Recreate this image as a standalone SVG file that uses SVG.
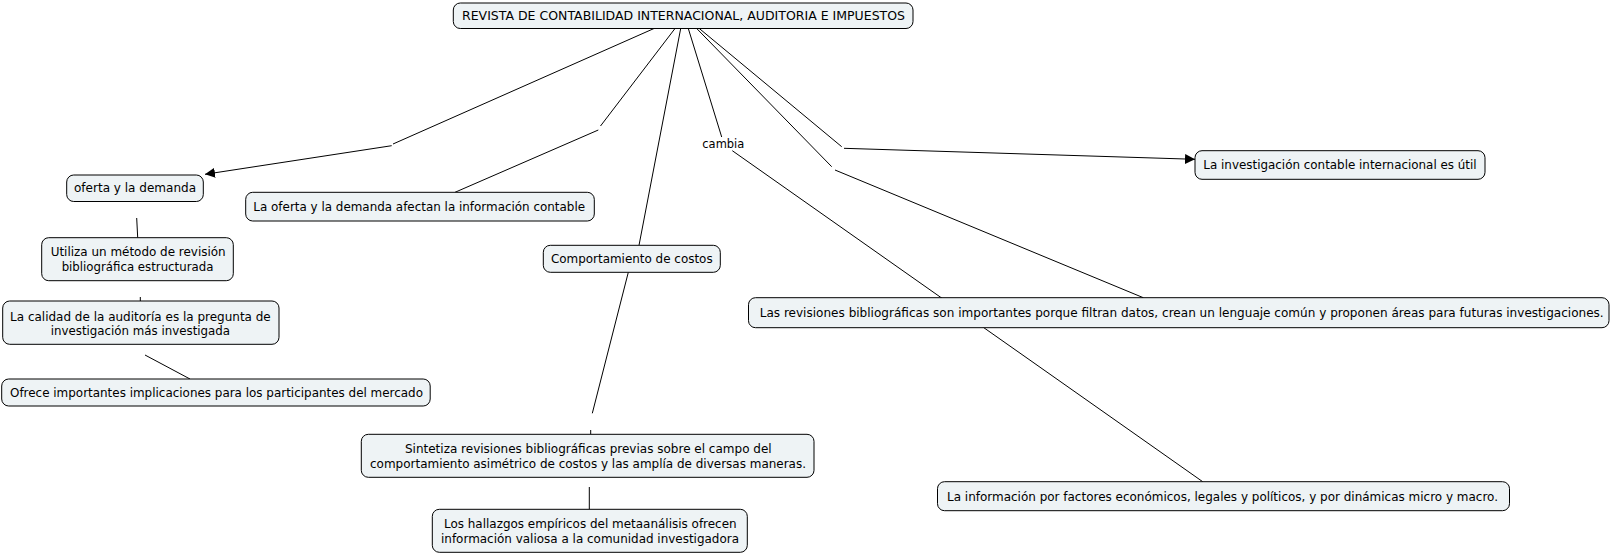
<svg xmlns="http://www.w3.org/2000/svg" width="1610" height="554" viewBox="0 0 1610 554">
<style>
.box{fill:#eef3f5;stroke:#000;stroke-width:1}
.t{font-family:"DejaVu Sans","Liberation Sans",sans-serif;font-size:12px;fill:#000;text-anchor:middle}
.lbl{font-family:"DejaVu Sans","Liberation Sans",sans-serif;font-size:11.5px;fill:#000;text-anchor:middle}
.c{fill:none;stroke:#000;stroke-width:1}
</style>
<defs>
<marker id="arr" viewBox="0 0 10 10" refX="10" refY="5" markerWidth="10" markerHeight="10" markerUnits="userSpaceOnUse" orient="auto">
<path d="M0,0 L10,5 L0,10 Z" fill="#000"/>
</marker>
</defs>
<rect width="1610" height="554" fill="#fff"/>
<g id="connectors">
<line class="c" x1="654" y1="28.5" x2="393" y2="144"/>
<line class="c" x1="391.7" y1="145.7" x2="205" y2="174.3" marker-end="url(#arr)"/>
<line class="c" x1="675" y1="28.5" x2="600.5" y2="126"/>
<line class="c" x1="598.3" y1="130" x2="455" y2="192.3"/>
<line class="c" x1="680.7" y1="28.5" x2="639" y2="245.3"/>
<line class="c" x1="688.3" y1="28.5" x2="721.7" y2="137"/>
<line class="c" x1="732.3" y1="150.7" x2="1202.7" y2="481.7"/>
<line class="c" x1="696.7" y1="28.5" x2="831.7" y2="166.7"/>
<line class="c" x1="835" y1="170" x2="1143.3" y2="297.7"/>
<line class="c" x1="699.3" y1="28.5" x2="841.7" y2="146.7"/>
<line class="c" x1="844" y1="148.3" x2="1195" y2="159.3" marker-end="url(#arr)"/>
<line class="c" x1="136.7" y1="218" x2="137.7" y2="237.7"/>
<line class="c" x1="140.3" y1="297" x2="140.3" y2="301"/>
<line class="c" x1="145" y1="355" x2="190" y2="379"/>
<line class="c" x1="628.3" y1="272.3" x2="592.3" y2="413.3"/>
<line class="c" x1="590.7" y1="430" x2="590.7" y2="434.3"/>
<line class="c" x1="589.3" y1="487" x2="589.3" y2="509.3"/>
<text class="lbl" x="723.3" y="148.3" textLength="42" lengthAdjust="spacingAndGlyphs">cambia</text>
</g>
<g id="n-title">
<rect class="box" x="453.3" y="3" width="459.7" height="25.5" rx="7"/>
<text class="t" x="683.5" y="20" textLength="443" lengthAdjust="spacingAndGlyphs">REVISTA DE CONTABILIDAD INTERNACIONAL, AUDITORIA E IMPUESTOS</text>
</g>
<g id="n-oferta">
<rect class="box" x="66.7" y="175" width="136.6" height="26.5" rx="7"/>
<text class="t" x="135" y="192.4" textLength="122" lengthAdjust="spacingAndGlyphs">oferta y la demanda</text>
</g>
<g id="n-afectan">
<rect class="box" x="245.7" y="192.3" width="348.6" height="28.7" rx="7"/>
<text class="t" x="419.2" y="211" textLength="331.7" lengthAdjust="spacingAndGlyphs">La oferta y la demanda afectan la información contable</text>
</g>
<g id="n-utiliza">
<rect class="box" x="41.7" y="237.7" width="191.6" height="43" rx="7"/>
<text class="t" x="138.2" y="256.3" textLength="175" lengthAdjust="spacingAndGlyphs">Utiliza un método de revisión</text>
<text class="t" x="137.5" y="270.8" textLength="151.7" lengthAdjust="spacingAndGlyphs">bibliográfica estructurada</text>
</g>
<g id="n-calidad">
<rect class="box" x="2.7" y="301" width="276.3" height="43.3" rx="7"/>
<text class="t" x="140.4" y="320.7" textLength="260.7" lengthAdjust="spacingAndGlyphs">La calidad de la auditoría es la pregunta de</text>
<text class="t" x="140.4" y="335" textLength="179.3" lengthAdjust="spacingAndGlyphs">investigación más investigada</text>
</g>
<g id="n-ofrece">
<rect class="box" x="1.7" y="379" width="428.5" height="27" rx="7"/>
<text class="t" x="216.5" y="397" textLength="413" lengthAdjust="spacingAndGlyphs">Ofrece importantes implicaciones para los participantes del mercado</text>
</g>
<g id="n-comportamiento">
<rect class="box" x="543.3" y="245.3" width="177" height="27" rx="7"/>
<text class="t" x="631.8" y="263.2" textLength="161.7" lengthAdjust="spacingAndGlyphs">Comportamiento de costos</text>
</g>
<g id="n-sintetiza">
<rect class="box" x="361.3" y="434.3" width="452.7" height="43" rx="7"/>
<text class="t" x="588.3" y="452.8" textLength="366.7" lengthAdjust="spacingAndGlyphs">Sintetiza revisiones bibliográficas previas sobre el campo del</text>
<text class="t" x="588" y="467.6" textLength="436" lengthAdjust="spacingAndGlyphs">comportamiento asimétrico de costos y las amplía de diversas maneras.</text>
</g>
<g id="n-hallazgos">
<rect class="box" x="432.3" y="509.3" width="315" height="43" rx="7"/>
<text class="t" x="590.3" y="527.6" textLength="292.7" lengthAdjust="spacingAndGlyphs">Los hallazgos empíricos del metaanálisis ofrecen</text>
<text class="t" x="590" y="542.6" textLength="298" lengthAdjust="spacingAndGlyphs">información valiosa a la comunidad investigadora</text>
</g>
<g id="n-investigacion">
<rect class="box" x="1195" y="150.7" width="290" height="28.6" rx="7"/>
<text class="t" x="1340" y="169.3" textLength="273.3" lengthAdjust="spacingAndGlyphs">La investigación contable internacional es útil</text>
</g>
<g id="n-revisiones">
<rect class="box" x="748.5" y="297.7" width="860.5" height="30" rx="7"/>
<text class="t" x="1181.7" y="317" textLength="844" lengthAdjust="spacingAndGlyphs">Las revisiones bibliográficas son importantes porque filtran datos, crean un lenguaje común y proponen áreas para futuras investigaciones.</text>
</g>
<g id="n-informacion">
<rect class="box" x="937.5" y="481.7" width="572" height="29" rx="7"/>
<text class="t" x="1222.5" y="500.5" textLength="551" lengthAdjust="spacingAndGlyphs">La información por factores económicos, legales y políticos, y por dinámicas micro y macro.</text>
</g>
</svg>
